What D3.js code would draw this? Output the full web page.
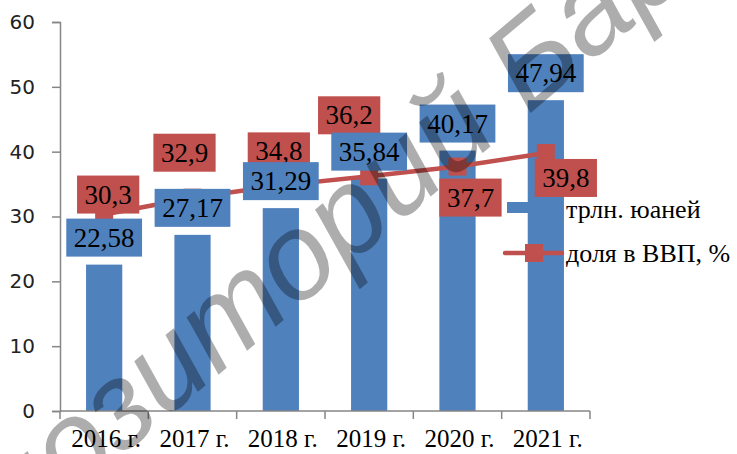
<!DOCTYPE html>
<html>
<head>
<meta charset="utf-8">
<script src="https://cdn.jsdelivr.net/npm/d3@7"></script>
<style>
  body { margin: 0; background: #fff; }
  svg { display: block; }
  .serif { font-family: "Liberation Serif", "Times New Roman", serif; }
</style>
</head>
<body>
<svg id="chart" width="737" height="454"></svg>
<script>
// chart data
const years = ["2016 г.", "2017 г.", "2018 г.", "2019 г.", "2020 г.", "2021 г."];
const trillionYuan = [22.58, 27.17, 31.29, 35.84, 40.17, 47.94];
const gdpShare = [30.3, 32.9, 34.8, 36.2, 37.7, 39.8];
const yTicks = [0, 10, 20, 30, 40, 50, 60];
const seriesNames = ["трлн. юаней", "доля в ВВП, %"];

// hand placed red label shifts (px from the point), like in the source chart
const redLabelShift = [[4, -20], [-8, -45], [-2, -34], [-20, -61], [13, 31], [20, 25]];

const BLUE = "#4F81BD";
const RED = "#C0504D";
const AXIS = "#868686";

const svg = d3.select("#chart");

const x = d3.scaleBand().domain(years).range([60, 590]).padding(0);
const y = d3.scaleLinear().domain([0, 60]).range([411, 22]);
const barW = x.bandwidth() * 0.41;
const cx = d => x(d) + x.bandwidth() / 2;

// y axis
const yAxis = svg.append("g")
    .attr("transform", "translate(60,0)")
    .call(d3.axisLeft(y).tickValues(yTicks).tickSize(8).tickPadding(17));
yAxis.selectAll("line, path").attr("stroke", AXIS).attr("stroke-width", 1.5);
yAxis.selectAll("text")
    .style("font-family", "'DejaVu Sans', sans-serif")
    .style("font-size", "20px")
    .attr("fill", "#222");

// bars
svg.append("g").selectAll("rect")
    .data(trillionYuan)
    .join("rect")
    .attr("x", (d, i) => cx(years[i]) - barW / 2)
    .attr("y", d => y(d))
    .attr("width", barW)
    .attr("height", d => y(0) - y(d))
    .attr("fill", BLUE);

// x axis: ticks on the band edges
const xAxis = svg.append("g");
xAxis.append("line")
    .attr("x1", x.range()[0]).attr("x2", x.range()[1])
    .attr("y1", y(0)).attr("y2", y(0))
    .attr("stroke", AXIS).attr("stroke-width", 1.5);
xAxis.selectAll("line.tick")
    .data(years.map(d => x(d)).concat([x.range()[1]]))
    .join("line")
    .attr("class", "tick")
    .attr("x1", d => d).attr("x2", d => d)
    .attr("y1", y(0)).attr("y2", y(0) + 8)
    .attr("stroke", AXIS).attr("stroke-width", 1.5);
xAxis.selectAll("text")
    .data(years)
    .join("text")
    .attr("class", "serif")
    .attr("x", d => cx(d) + 2)
    .attr("y", 447)
    .attr("text-anchor", "middle")
    .style("font-size", "25px")
    .attr("fill", "#000")
    .text(d => d);

// line series
const pts = gdpShare.map((v, i) => [cx(years[i]), y(v)]);
svg.append("path")
    .attr("d", d3.line()(pts))
    .attr("fill", "none")
    .attr("stroke", RED)
    .attr("stroke-width", 4.5)
    .attr("stroke-linejoin", "round");
svg.append("g").selectAll("rect")
    .data(pts)
    .join("rect")
    .attr("x", d => d[0] - 9)
    .attr("y", d => d[1] - 9)
    .attr("width", 18)
    .attr("height", 18)
    .attr("fill", RED);

// data labels
function labelBox(g, cxv, cyv, txt, color) {
    const t = g.append("text")
        .attr("class", "serif")
        .attr("x", cxv)
        .attr("y", cyv + 9)
        .attr("text-anchor", "middle")
        .style("font-size", "27px")
        .attr("fill", "#000")
        .text(txt);
    const w = t.node().getComputedTextLength() + 15;
    g.insert("rect", "text")
        .attr("x", cxv - w / 2)
        .attr("y", cyv - 19)
        .attr("width", w)
        .attr("height", 38)
        .attr("fill", color);
}
const fmt = v => String(v).replace(".", ",");

const redLabels = svg.append("g");
gdpShare.forEach((v, i) => {
    const g = redLabels.append("g");
    labelBox(g, pts[i][0] + redLabelShift[i][0], pts[i][1] + redLabelShift[i][1], fmt(v), RED);
});
const blueLabels = svg.append("g");
trillionYuan.forEach((v, i) => {
    const g = blueLabels.append("g");
    labelBox(g, cx(years[i]), y(v) - 8 - 19, fmt(v), BLUE);
});

// legend
const legend = svg.append("g");
legend.append("rect")
    .attr("x", 507).attr("y", 202).attr("width", 30).attr("height", 11)
    .attr("fill", BLUE);
legend.append("line")
    .attr("x1", 505).attr("x2", 562).attr("y1", 253).attr("y2", 253)
    .attr("stroke", RED).attr("stroke-width", 4.5).attr("stroke-linecap", "round");
legend.append("rect")
    .attr("x", 525).attr("y", 244).attr("width", 18).attr("height", 18)
    .attr("fill", RED);
legend.selectAll("text")
    .data(seriesNames)
    .join("text")
    .attr("class", "serif")
    .attr("x", 566)
    .attr("y", (d, i) => 218 + i * 44)
    .style("font-size", "26px")
    .attr("fill", "#000")
    .text(d => d);

// repository watermark
svg.append("text")
    .attr("transform", "translate(-94,637) rotate(-40)")
    .style("font-family", "'Liberation Sans', Arial, sans-serif")
    .style("font-size", "122px")
    .style("font-style", "italic")
    .attr("fill", "#000")
    .attr("fill-opacity", 0.32)
    .text("Репозиторий БарГУ");
</script>
</body>
</html>
